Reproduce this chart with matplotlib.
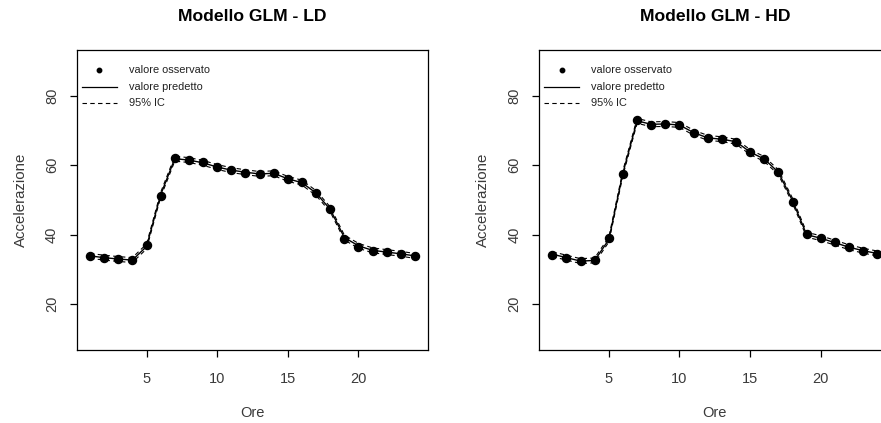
import matplotlib
matplotlib.use("Agg")
import matplotlib.pyplot as plt
from matplotlib.lines import Line2D

plt.rcParams['font.family'] = ['Liberation Sans', 'DejaVu Sans']

ore = list(range(1, 25))

ld_obs = [33.8, 33.4, 33.0, 32.8, 37.0, 51.2, 62.2, 61.6, 60.9, 59.5, 58.7, 57.9,
          57.5, 57.9, 56.0, 55.1, 52.0, 47.4, 38.8, 36.6, 35.2, 35.0, 34.4, 33.8]
ld_pred = [33.9, 33.4, 33.0, 32.7, 36.6, 51.5, 61.9, 61.5, 60.7, 59.5, 58.6, 58.0,
           57.5, 57.7, 56.1, 55.0, 52.0, 47.3, 39.2, 36.8, 35.5, 35.0, 34.5, 33.9]
ld_low = [33.2, 32.7, 32.3, 32.0, 35.9, 50.8, 61.2, 60.8, 60.0, 58.8, 57.9, 57.3,
          56.8, 57.0, 55.4, 54.3, 51.3, 46.6, 38.5, 36.1, 34.8, 34.3, 33.8, 33.2]
ld_up = [34.6, 34.1, 33.7, 33.4, 37.3, 52.2, 62.6, 62.2, 61.4, 60.2, 59.3, 58.7,
         58.2, 58.4, 56.8, 55.7, 52.7, 48.0, 39.9, 37.5, 36.2, 35.7, 35.2, 34.6]

hd_obs = [34.3, 33.4, 32.5, 32.8, 39.0, 57.5, 73.1, 71.7, 72.0, 71.7, 69.3, 67.8,
          67.6, 66.6, 63.9, 61.7, 58.1, 49.5, 40.1, 39.0, 37.8, 36.4, 35.3, 34.5]
hd_pred = [34.4, 33.4, 32.4, 32.6, 38.6, 57.8, 72.8, 71.8, 71.9, 71.6, 69.4, 67.9,
           67.5, 66.8, 63.8, 61.8, 58.0, 49.8, 40.0, 39.0, 37.7, 36.4, 35.4, 34.6]
hd_low = [33.7, 32.7, 31.7, 31.9, 37.9, 57.1, 72.1, 71.1, 71.2, 70.9, 68.7, 67.2,
          66.8, 66.1, 63.1, 61.1, 57.3, 49.1, 39.3, 38.3, 37.0, 35.7, 34.7, 33.9]
hd_up = [35.1, 34.1, 33.1, 33.3, 39.3, 58.5, 73.5, 72.5, 72.6, 72.3, 70.1, 68.6,
         68.2, 67.5, 64.5, 62.5, 58.7, 50.5, 40.7, 39.7, 38.4, 37.1, 36.1, 35.3]

titoli = ["Modello GLM - LD", "Modello GLM - HD"]
xticks = [5, 10, 15, 20]
yticks = [20, 40, 60, 80]
legend_labels = ["valore osservato", "valore predetto", "95% IC"]

W, H = 881, 423
fig = plt.figure(figsize=(W / 100, H / 100), dpi=100)

panels = [
    (77, ld_obs, ld_pred, ld_low, ld_up, titoli[0]),
    (539.3, hd_obs, hd_pred, hd_low, hd_up, titoli[1]),
]
aw, ah = 351, 300
top = 50
for left, obs, pred, low, up, tit in panels:
    ax = fig.add_axes([left / W, 1 - (top + ah) / H, aw / W, ah / H])
    ax.plot(ore, low, color='black', lw=0.8, ls=(0, (4, 3)))
    ax.plot(ore, up, color='black', lw=0.8, ls=(0, (4, 3)))
    ax.plot(ore, pred, color='black', lw=1.0)
    ax.plot(ore, obs, ls='none', marker='o', ms=5.8, color='black')
    ax.set_xlim(0.08, 24.92)
    ax.set_ylim(6.8, 93.2)
    ax.set_xticks(xticks)
    ax.set_yticks(yticks)
    ax.set_yticklabels([str(v) for v in yticks], rotation=90, va='center')
    ax.tick_params(axis='both', direction='out', length=5, width=0.9,
                   labelsize=10.5, colors='black', labelcolor='#3a3a3a')
    ax.tick_params(axis='x', pad=10.6)
    ax.tick_params(axis='y', pad=7.9)
    for s in ax.spines.values():
        s.set_linewidth(0.9)
        s.set_color('black')
    ax.set_title(tit, fontsize=12.6, fontweight='bold', pad=21.2)
    ax.set_xlabel("Ore", fontsize=10.5, labelpad=14.9, color='#3a3a3a')
    ax.set_ylabel("Accelerazione", fontsize=10.8, labelpad=12.2, color='#3a3a3a')

    # legend (R style, no box)
    rows = [0.933, 0.877, 0.823]
    ax.add_line(Line2D([0.064], [rows[0]], transform=ax.transAxes, ls='none',
                       marker='o', ms=3.2, color='black'))
    ax.add_line(Line2D([0.014, 0.114], [rows[1], rows[1]], transform=ax.transAxes,
                       color='black', lw=0.9))
    ax.add_line(Line2D([0.014, 0.114], [rows[2], rows[2]], transform=ax.transAxes,
                       color='black', lw=0.8, ls=(0, (4, 3))))
    for r, lab in zip(rows, legend_labels):
        ax.text(0.148, r, lab, transform=ax.transAxes, fontsize=7.9,
                va='center', ha='left', color='#222222')

fig.savefig("out.png", dpi=100)
